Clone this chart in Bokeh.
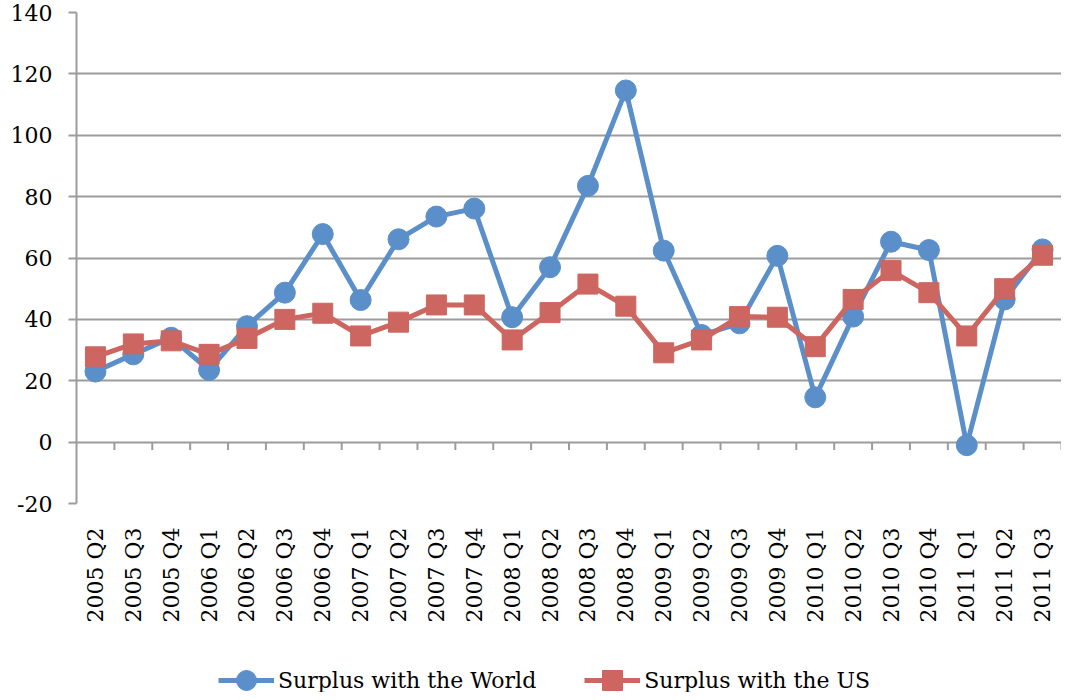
from math import pi
from bokeh.plotting import figure
from bokeh.layouts import column
from bokeh.models import Range1d, FixedTicker, Legend, LegendItem, ColumnDataSource
from bokeh.embed import file_html
from bokeh.resources import INLINE

categories = ["2005 Q2", "2005 Q3", "2005 Q4", "2006 Q1", "2006 Q2", "2006 Q3", "2006 Q4",
              "2007 Q1", "2007 Q2", "2007 Q3", "2007 Q4", "2008 Q1", "2008 Q2", "2008 Q3",
              "2008 Q4", "2009 Q1", "2009 Q2", "2009 Q3", "2009 Q4", "2010 Q1", "2010 Q2",
              "2010 Q3", "2010 Q4", "2011 Q1", "2011 Q2", "2011 Q3"]
surplus_world = [23.0, 28.6, 34.0, 23.5, 37.8, 48.7, 67.8, 46.3, 66.1, 73.5, 76.1, 40.7, 57.0,
                 83.5, 114.6, 62.4, 34.9, 38.7, 60.7, 14.6, 40.9, 65.3, 62.6, -1.0, 46.5, 62.8]
surplus_us = [27.8, 32.0, 33.0, 28.6, 33.8, 40.0, 42.0, 34.6, 39.1, 44.7, 44.7, 33.3, 42.2,
              51.5, 44.3, 29.1, 33.3, 40.9, 40.7, 31.1, 46.5, 55.9, 48.7, 34.6, 50.0, 60.9]
series_names = ["Surplus with the World", "Surplus with the US"]
y_ticks = [-20, 0, 20, 40, 60, 80, 100, 120, 140]
y_tick_labels = ["-20", "0", "20", "40", "60", "80", "100", "120", "140"]

BLUE = "#5B8FC9"
RED = "#CD6660"
GRID = "#9C9C9C"
FONT = "DejaVu Serif"

n = len(categories)
xs = [i + 0.5 for i in range(n)]
src = ColumnDataSource(dict(x=xs, world=surplus_world, us=surplus_us))

p = figure(width=1061, height=635, output_backend="svg", toolbar_location=None,
           x_range=Range1d(0, n), y_range=Range1d(y_ticks[0], y_ticks[-1]),
           min_border_left=76, min_border_top=12, min_border_right=0, min_border_bottom=132)
p.outline_line_color = None
p.background_fill_color = "white"
p.border_fill_color = "white"

# y axis
p.yaxis.ticker = FixedTicker(ticks=y_ticks)
p.yaxis.major_label_overrides = {t: s for t, s in zip(y_ticks, y_tick_labels)}
p.yaxis.major_label_text_font = FONT
p.yaxis.major_label_text_font_size = "22px"
p.yaxis.major_label_text_color = "black"
p.yaxis.axis_line_color = GRID
p.yaxis.axis_line_width = 2
p.yaxis.major_tick_line_color = GRID
p.yaxis.major_tick_line_width = 2
p.yaxis.major_tick_out = 8
p.yaxis.major_tick_in = 0
p.yaxis.minor_tick_line_color = None
p.yaxis.major_label_standoff = 16
p.ygrid.ticker = FixedTicker(ticks=y_ticks)
p.ygrid.grid_line_color = GRID
p.ygrid.grid_line_width = 2

# x axis
p.xaxis.ticker = FixedTicker(ticks=xs)
p.xaxis.major_label_overrides = {x: c for x, c in zip(xs, categories)}
p.xaxis.major_label_orientation = pi / 2
p.xaxis.major_label_text_font = FONT
p.xaxis.major_label_text_font_size = "22px"
p.xaxis.major_label_text_color = "black"
p.xaxis.axis_line_color = None
p.xaxis.major_tick_line_color = None
p.xaxis.major_tick_out = 0
p.xaxis.major_tick_in = 0
p.xaxis.minor_tick_line_color = None
p.xaxis.major_label_standoff = 24
p.xgrid.grid_line_color = None

# category tick marks hanging from the zero line
tick_len = 2.6
bounds = list(range(1, n + 1))
p.segment(x0=bounds, y0=[0] * len(bounds), x1=bounds, y1=[-tick_len] * len(bounds),
          line_color=GRID, line_width=2)

p.line("x", "world", source=src, line_color=BLUE, line_width=5)
p.scatter("x", "world", source=src, marker="circle", size=21, fill_color=BLUE, line_color=BLUE)
p.line("x", "us", source=src, line_color=RED, line_width=5)
p.scatter("x", "us", source=src, marker="square", size=20, fill_color=RED, line_color=RED)

# legend strip below the chart (its view range lies away from the data, so only the legend shows)
lg = figure(width=1061, height=57, output_backend="svg", toolbar_location=None,
            x_range=Range1d(-n - 2, -n - 1), y_range=Range1d(y_ticks[0] - 20, y_ticks[0] - 10),
            min_border_left=0, min_border_right=0, min_border_top=0, min_border_bottom=0)
lg.axis.visible = False
lg.grid.visible = False
lg.outline_line_color = None
lg.background_fill_color = "white"
lg.border_fill_color = "white"
lw = lg.line("x", "world", source=src, line_color=BLUE, line_width=5)
mw = lg.scatter("x", "world", source=src, marker="circle", size=21, fill_color=BLUE, line_color=BLUE)
lu = lg.line("x", "us", source=src, line_color=RED, line_width=5)
mu = lg.scatter("x", "us", source=src, marker="square", size=20, fill_color=RED, line_color=RED)

legend = Legend(items=[LegendItem(label=series_names[0], renderers=[lw, mw]),
                       LegendItem(label=series_names[1], renderers=[lu, mu])],
                orientation="horizontal", location=(142, -13),
                label_text_font=FONT, label_text_font_size="22px",
                label_text_color="black",
                glyph_width=56, glyph_height=50, label_height=22,
                label_standoff=4, spacing=48, padding=0, margin=0,
                border_line_color=None, background_fill_alpha=0)
lg.add_layout(legend, "center")

layout = column(p, lg, spacing=0)
open("out.html", "w").write(file_html(layout, INLINE))
